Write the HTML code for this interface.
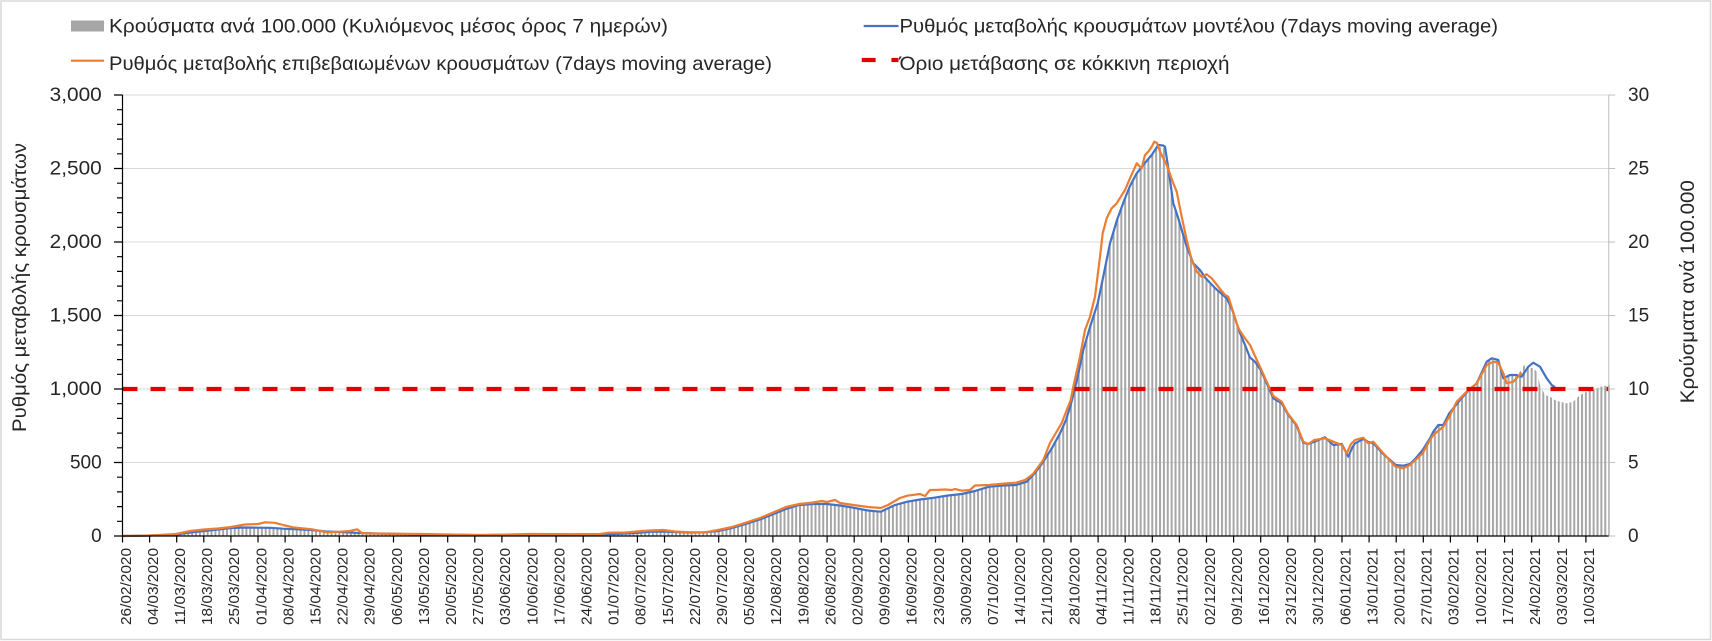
<!DOCTYPE html>
<html>
<head>
<meta charset="utf-8">
<style>
html,body{margin:0;padding:0;background:#fff;}
svg{display:block;}
text{font-family:"Liberation Sans","DejaVu Sans",sans-serif;fill:#262626;}
</style>
</head>
<body>
<svg width="1712" height="641" viewBox="0 0 1712 641" xmlns="http://www.w3.org/2000/svg">
<defs>
<pattern id="bp" patternUnits="userSpaceOnUse" x="121.5" y="0" width="3.8714" height="641">
<rect x="0" y="0" width="2" height="641" fill="#a6a6a6"/>
</pattern>
</defs>
<rect x="0" y="0" width="1712" height="641" fill="#fff"/>
<rect x="1" y="1" width="1709.5" height="638.5" fill="none" stroke="#d9d9d9" stroke-width="1.5"/>

<!-- legend -->
<rect x="71" y="20.5" width="33" height="11" fill="#a6a6a6"/>
<text x="109" y="32.3" font-size="19.5" textLength="559" lengthAdjust="spacingAndGlyphs">Κρούσματα ανά 100.000 (Κυλιόμενος μέσος όρος 7 ημερών)</text>
<line x1="71" y1="60.7" x2="104" y2="60.7" stroke="#ED7D31" stroke-width="2.2"/>
<text x="109" y="70" font-size="19.5" textLength="663" lengthAdjust="spacingAndGlyphs">Ρυθμός μεταβολής επιβεβαιωμένων κρουσμάτων (7days moving average)</text>
<line x1="863.7" y1="26" x2="898.5" y2="26" stroke="#4472C4" stroke-width="2.2"/>
<text x="899.5" y="32.3" font-size="19.5" textLength="598.5" lengthAdjust="spacingAndGlyphs">Ρυθμός μεταβολής κρουσμάτων μοντέλου (7days moving average)</text>
<line x1="861.7" y1="60" x2="875.6" y2="60" stroke="#E00000" stroke-width="4.2"/>
<line x1="891.4" y1="60" x2="898.5" y2="60" stroke="#E00000" stroke-width="4.2"/>
<text x="899.5" y="70" font-size="19.5" textLength="330" lengthAdjust="spacingAndGlyphs">Όριο μετάβασης σε κόκκινη περιοχή</text>

<!-- gridlines -->
<g stroke="#d9d9d9" stroke-width="1">
<line x1="122.5" y1="95" x2="1608.7" y2="95"/>
<line x1="122.5" y1="168.5" x2="1608.7" y2="168.5"/>
<line x1="122.5" y1="242" x2="1608.7" y2="242"/>
<line x1="122.5" y1="315.5" x2="1608.7" y2="315.5"/>
<line x1="122.5" y1="389" x2="1608.7" y2="389"/>
<line x1="122.5" y1="462.5" x2="1608.7" y2="462.5"/>
</g>

<!-- bars -->
<polygon fill="url(#bp)" points="121.5,536 122.5,536 150,535.5 176,534.5 190,532.5 204,531 218,529.5 231,528 245,527.5 258,527.7 270,527.8 283,528.7 297,529.3 312,530 326,531.5 340,532 356,532.8 372,533.3 420,534.5 480,535 530,534.5 600,534.3 620,533.8 636,533 650,531.8 663,531.5 678,532.2 691,532.5 705,532.3 718,531 732,528 745.7,524 760,519.5 772.7,514.3 786,509 799.3,505 813,504 826.7,504 840,505.5 853.3,507.7 868,510.5 880.7,511.7 895,505 907.3,501.7 920,499.5 934.3,497.7 948,495.5 961.7,494 975,491 989,486.7 1003,485.5 1016,485 1026.7,481.7 1035,473 1043.3,461.7 1052,448 1060,433.3 1066,420 1070.7,405 1077,380 1083.3,350 1090,327 1097.7,303.3 1104,273 1110,243.3 1117,220 1124.3,200 1130,186 1136.7,173.3 1144,164 1151.7,155 1158.3,147 1163,147.5 1165,149 1168.3,170 1173.3,203.3 1178.3,218.3 1186.7,246.7 1193.3,263.3 1200,270 1205.7,278.3 1215,288 1226.7,298.3 1232.3,310 1240,333 1245,345 1250,357.5 1255,361.7 1260.7,370 1266.7,383.3 1273.3,398.3 1281.7,403.3 1287.7,414 1296.7,426 1303.3,442.7 1308.3,444 1314.3,441.7 1325,437.3 1333.3,445 1341.7,444 1345,450 1348.3,456.7 1352,448 1355,443.3 1363.3,439 1368.3,442 1373.3,443.3 1383.3,454 1395.7,465 1403.3,465.7 1410,464 1416,458 1422.7,450 1430,438.3 1433.3,431.7 1438.3,425 1443.3,425 1449.3,413.3 1460,400 1468,391 1476.7,383.3 1486.7,361.7 1491.7,360 1498.3,361 1503.3,378.3 1510,375 1516.7,375 1521.7,370 1524,365 1528.3,368 1533.3,368 1537,372 1540,385 1545,395 1550,396.7 1555,400 1560,401.7 1566.7,403.3 1573.3,401.7 1580,395 1586.7,391.7 1593.3,390 1600,386.7 1609.7,385 1609.7,536"/>

<!-- blue line -->
<polyline fill="none" stroke="#4472C4" stroke-width="2.2" stroke-linejoin="round" points="122.5,536 150,535.5 176,534.5 190,532.5 204,531 218,529.5 231,528 245,527.5 258,527.7 270,527.8 283,528.7 297,529.3 312,530 326,531.5 340,532 356,532.8 372,533.3 420,534.5 480,535 530,534.5 600,534.3 620,533.8 636,533 650,531.8 663,531.5 678,532.2 691,532.5 705,532.3 718,531 732,528 745.7,524 760,519.5 772.7,514.3 786,509 799.3,505 813,504 826.7,504 840,505.5 853.3,507.7 868,510.5 880.7,511.7 895,505 907.3,501.7 920,499.5 934.3,497.7 948,495.5 961.7,494 975,491 989,486.7 1003,485.5 1016,485 1026.7,481.7 1035,473 1043.3,461.7 1052,448 1060,433.3 1066,420 1070.7,405 1077,380 1083.3,350 1090,327 1097.7,303.3 1104,273 1110,243.3 1117,220 1124.3,200 1130,186 1136.7,173.3 1144,164 1151.7,155 1158.3,145 1163,145.5 1165,146.7 1168.3,168.3 1173.3,203.3 1178.3,218.3 1186.7,246.7 1193.3,263.3 1200,270 1205.7,278.3 1215,288 1226.7,298.3 1232.3,310 1240,333 1245,345 1250,357.5 1255,361.7 1260.7,370 1266.7,383.3 1273.3,398.3 1281.7,403.3 1287.7,414 1296.7,426 1303.3,442.7 1308.3,444 1314.3,441.7 1325,437.3 1333.3,445 1341.7,444 1345,450 1348.3,456.7 1352,448 1355,443.3 1363.3,439 1368.3,442 1373.3,443.3 1383.3,454 1395.7,465 1403.3,465.7 1410,464 1416,458 1422.7,450 1430,438.3 1433.3,431.7 1438.3,425 1443.3,425 1449.3,413.3 1460,400 1468,391 1476.7,383.3 1486.7,361.7 1491.7,358.3 1498.3,360 1503.3,378.3 1510,375 1516.7,375 1521.7,376.7 1528.3,366.7 1533.3,362.7 1540,366.7 1546.7,378.3 1551.7,385 1555,387.3"/>

<!-- orange line -->
<polyline fill="none" stroke="#ED7D31" stroke-width="2.2" stroke-linejoin="round" points="122.5,536 150,535.5 176,534 190,531 204,529.5 218,528.5 231,527 245,524.5 258,524 265,522.3 275,522.8 283,525 293,527.3 312,529.3 327,532.3 340,531.7 350,531 357,529.3 362,533 372,533.5 420,534 450,534.5 480,535.2 530,534 570,534.2 600,534 609,532.7 625,532.5 636.7,531.5 650,530.5 663,530 675,531.5 691,532.3 705,532.3 718,530 732,527 745.7,522.7 760,518 772.7,512.7 786,507 799.3,504 813,502.5 822,501 826.7,502 835,500 840,503 853.3,505 868,507 880.7,508 888,505 900,498 907.3,495.7 920,494 925,496 930,490 934.3,490 945,489.5 952,490 955,489 961.7,490.7 970,490 975,485.5 989,485 1005,483.5 1016,482.7 1025,480 1033,474 1043.3,460 1050,443 1061.7,423 1070.7,400 1073.3,386.7 1080,356.7 1085,330 1090,316.7 1095,296.7 1100,256.7 1102.7,233.3 1106.7,218.3 1111.7,208.3 1116.7,203.3 1125,190 1130,178.3 1136.7,163.3 1140,166.7 1141.7,168.3 1145,155 1148.3,151.7 1151.7,146.7 1154.3,141.7 1157,143 1160,151.7 1166.7,165 1173.3,183.3 1176.7,191.7 1181.7,216.7 1186.7,240 1191.7,260 1196.7,271.7 1201.7,276.7 1206.7,274.3 1211.7,278.3 1218.3,286.7 1225,295 1228.3,296.7 1233.3,312.5 1238.3,328.3 1245,338.3 1250,345 1255,356 1260.7,368.3 1266.7,381.7 1273.3,396 1281.7,401.7 1287.7,413.3 1296.7,425 1303.3,441.7 1308.3,444 1314.3,440 1325,438.3 1333.3,441.7 1341.7,445 1346.7,453.3 1351,444 1355,440 1363.3,437.7 1368.3,443.3 1373.3,441.7 1383.3,453.3 1395.7,466.7 1403.3,468.3 1410,465 1422.7,453.3 1430,440 1433.3,435 1443.3,426.7 1449.3,416.7 1456.7,401.7 1466.7,391.7 1476.7,383.3 1486.7,365 1493.3,361.7 1498.3,362.7 1503.3,373.3 1506.7,383.3 1513.3,381.7 1521.7,372.7"/>

<!-- red threshold -->
<line x1="122.5" y1="389" x2="1608.7" y2="389" stroke="#E00000" stroke-width="4.3" stroke-dasharray="15 13"/>

<!-- axes -->
<line x1="1608.7" y1="95" x2="1608.7" y2="536" stroke="#bfbfbf" stroke-width="1"/>
<path d="M1608.7 95h6.5M1608.7 168.5h6.5M1608.7 242h6.5M1608.7 315.5h6.5M1608.7 389h6.5M1608.7 462.5h6.5M1608.7 536h6.5" stroke="#bfbfbf" stroke-width="1"/>
<line x1="122.5" y1="95" x2="122.5" y2="536" stroke="#000" stroke-width="1.2"/>
<path d="M114 95h8.5M114 168.5h8.5M114 242h8.5M114 315.5h8.5M114 389h8.5M114 462.5h8.5M114 536h8.5" stroke="#000" stroke-width="1.2"/>
<path d="M117 521.3h5.5M117 506.6h5.5M117 491.9h5.5M117 477.2h5.5M117 447.8h5.5M117 433.1h5.5M117 418.4h5.5M117 403.7h5.5M117 374.3h5.5M117 359.6h5.5M117 344.9h5.5M117 330.2h5.5M117 300.8h5.5M117 286.1h5.5M117 271.4h5.5M117 256.7h5.5M117 227.3h5.5M117 212.6h5.5M117 197.9h5.5M117 183.2h5.5M117 153.8h5.5M117 139.1h5.5M117 124.4h5.5M117 109.7h5.5" stroke="#000" stroke-width="1.2"/>
<line x1="122.5" y1="536" x2="1608.7" y2="536" stroke="#000" stroke-width="1.3"/>
<path stroke="#000" stroke-width="1.2" d="M122.5 536v6.5M149.6 536v6.5M176.7 536v6.5M203.8 536v6.5M230.9 536v6.5M258 536v6.5M285.1 536v6.5M312.2 536v6.5M339.3 536v6.5M366.4 536v6.5M393.5 536v6.5M420.6 536v6.5M447.7 536v6.5M474.8 536v6.5M501.9 536v6.5M529 536v6.5M556.1 536v6.5M583.2 536v6.5M610.3 536v6.5M637.4 536v6.5M664.5 536v6.5M691.6 536v6.5M718.7 536v6.5M745.8 536v6.5M772.9 536v6.5M800 536v6.5M827.1 536v6.5M854.2 536v6.5M881.3 536v6.5M908.4 536v6.5M935.5 536v6.5M962.6 536v6.5M989.7 536v6.5M1016.8 536v6.5M1043.9 536v6.5M1071 536v6.5M1098.1 536v6.5M1125.2 536v6.5M1152.3 536v6.5M1179.4 536v6.5M1206.5 536v6.5M1233.6 536v6.5M1260.7 536v6.5M1287.8 536v6.5M1314.9 536v6.5M1342 536v6.5M1369.1 536v6.5M1396.2 536v6.5M1423.3 536v6.5M1450.4 536v6.5M1477.5 536v6.5M1504.6 536v6.5M1531.7 536v6.5M1558.8 536v6.5M1585.9 536v6.5"/>

<!-- left labels -->
<g font-size="19" text-anchor="end">
<text x="101.7" y="101" textLength="52" lengthAdjust="spacingAndGlyphs">3,000</text>
<text x="101.7" y="174.5" textLength="52" lengthAdjust="spacingAndGlyphs">2,500</text>
<text x="101.7" y="248" textLength="52" lengthAdjust="spacingAndGlyphs">2,000</text>
<text x="101.7" y="321.5" textLength="52" lengthAdjust="spacingAndGlyphs">1,500</text>
<text x="101.7" y="395" textLength="52" lengthAdjust="spacingAndGlyphs">1,000</text>
<text x="101.7" y="468.5">500</text>
<text x="101.7" y="542">0</text>
</g>
<!-- right labels -->
<g font-size="19">
<text x="1628" y="101">30</text>
<text x="1628" y="174.5">25</text>
<text x="1628" y="248">20</text>
<text x="1628" y="321.5">15</text>
<text x="1628" y="395">10</text>
<text x="1628" y="468.5">5</text>
<text x="1628" y="542">0</text>
</g>
<!-- axis titles -->
<text transform="translate(26,287.5) rotate(-90)" font-size="19.5" text-anchor="middle" textLength="289" lengthAdjust="spacingAndGlyphs">Ρυθμός μεταβολής κρουσμάτων</text>
<text transform="translate(1694,291.7) rotate(-90)" font-size="19.5" text-anchor="middle" textLength="223" lengthAdjust="spacingAndGlyphs">Κρούσματα ανά 100.000</text>

<!-- x labels -->
<g font-size="15" text-anchor="end">
<text transform="translate(130.8,548) rotate(-90)" textLength="77" lengthAdjust="spacingAndGlyphs">26/02/2020</text>
<text transform="translate(157.9,548) rotate(-90)" textLength="77" lengthAdjust="spacingAndGlyphs">04/03/2020</text>
<text transform="translate(185,548) rotate(-90)" textLength="77" lengthAdjust="spacingAndGlyphs">11/03/2020</text>
<text transform="translate(212.1,548) rotate(-90)" textLength="77" lengthAdjust="spacingAndGlyphs">18/03/2020</text>
<text transform="translate(239.2,548) rotate(-90)" textLength="77" lengthAdjust="spacingAndGlyphs">25/03/2020</text>
<text transform="translate(266.3,548) rotate(-90)" textLength="77" lengthAdjust="spacingAndGlyphs">01/04/2020</text>
<text transform="translate(293.4,548) rotate(-90)" textLength="77" lengthAdjust="spacingAndGlyphs">08/04/2020</text>
<text transform="translate(320.5,548) rotate(-90)" textLength="77" lengthAdjust="spacingAndGlyphs">15/04/2020</text>
<text transform="translate(347.6,548) rotate(-90)" textLength="77" lengthAdjust="spacingAndGlyphs">22/04/2020</text>
<text transform="translate(374.7,548) rotate(-90)" textLength="77" lengthAdjust="spacingAndGlyphs">29/04/2020</text>
<text transform="translate(401.8,548) rotate(-90)" textLength="77" lengthAdjust="spacingAndGlyphs">06/05/2020</text>
<text transform="translate(428.9,548) rotate(-90)" textLength="77" lengthAdjust="spacingAndGlyphs">13/05/2020</text>
<text transform="translate(456,548) rotate(-90)" textLength="77" lengthAdjust="spacingAndGlyphs">20/05/2020</text>
<text transform="translate(483.1,548) rotate(-90)" textLength="77" lengthAdjust="spacingAndGlyphs">27/05/2020</text>
<text transform="translate(510.2,548) rotate(-90)" textLength="77" lengthAdjust="spacingAndGlyphs">03/06/2020</text>
<text transform="translate(537.3,548) rotate(-90)" textLength="77" lengthAdjust="spacingAndGlyphs">10/06/2020</text>
<text transform="translate(564.4,548) rotate(-90)" textLength="77" lengthAdjust="spacingAndGlyphs">17/06/2020</text>
<text transform="translate(591.5,548) rotate(-90)" textLength="77" lengthAdjust="spacingAndGlyphs">24/06/2020</text>
<text transform="translate(618.6,548) rotate(-90)" textLength="77" lengthAdjust="spacingAndGlyphs">01/07/2020</text>
<text transform="translate(645.7,548) rotate(-90)" textLength="77" lengthAdjust="spacingAndGlyphs">08/07/2020</text>
<text transform="translate(672.8,548) rotate(-90)" textLength="77" lengthAdjust="spacingAndGlyphs">15/07/2020</text>
<text transform="translate(699.9,548) rotate(-90)" textLength="77" lengthAdjust="spacingAndGlyphs">22/07/2020</text>
<text transform="translate(727,548) rotate(-90)" textLength="77" lengthAdjust="spacingAndGlyphs">29/07/2020</text>
<text transform="translate(754.1,548) rotate(-90)" textLength="77" lengthAdjust="spacingAndGlyphs">05/08/2020</text>
<text transform="translate(781.2,548) rotate(-90)" textLength="77" lengthAdjust="spacingAndGlyphs">12/08/2020</text>
<text transform="translate(808.3,548) rotate(-90)" textLength="77" lengthAdjust="spacingAndGlyphs">19/08/2020</text>
<text transform="translate(835.4,548) rotate(-90)" textLength="77" lengthAdjust="spacingAndGlyphs">26/08/2020</text>
<text transform="translate(862.5,548) rotate(-90)" textLength="77" lengthAdjust="spacingAndGlyphs">02/09/2020</text>
<text transform="translate(889.6,548) rotate(-90)" textLength="77" lengthAdjust="spacingAndGlyphs">09/09/2020</text>
<text transform="translate(916.7,548) rotate(-90)" textLength="77" lengthAdjust="spacingAndGlyphs">16/09/2020</text>
<text transform="translate(943.8,548) rotate(-90)" textLength="77" lengthAdjust="spacingAndGlyphs">23/09/2020</text>
<text transform="translate(970.9,548) rotate(-90)" textLength="77" lengthAdjust="spacingAndGlyphs">30/09/2020</text>
<text transform="translate(998,548) rotate(-90)" textLength="77" lengthAdjust="spacingAndGlyphs">07/10/2020</text>
<text transform="translate(1025.1,548) rotate(-90)" textLength="77" lengthAdjust="spacingAndGlyphs">14/10/2020</text>
<text transform="translate(1052.2,548) rotate(-90)" textLength="77" lengthAdjust="spacingAndGlyphs">21/10/2020</text>
<text transform="translate(1079.3,548) rotate(-90)" textLength="77" lengthAdjust="spacingAndGlyphs">28/10/2020</text>
<text transform="translate(1106.4,548) rotate(-90)" textLength="77" lengthAdjust="spacingAndGlyphs">04/11/2020</text>
<text transform="translate(1133.5,548) rotate(-90)" textLength="77" lengthAdjust="spacingAndGlyphs">11/11/2020</text>
<text transform="translate(1160.6,548) rotate(-90)" textLength="77" lengthAdjust="spacingAndGlyphs">18/11/2020</text>
<text transform="translate(1187.7,548) rotate(-90)" textLength="77" lengthAdjust="spacingAndGlyphs">25/11/2020</text>
<text transform="translate(1214.8,548) rotate(-90)" textLength="77" lengthAdjust="spacingAndGlyphs">02/12/2020</text>
<text transform="translate(1241.9,548) rotate(-90)" textLength="77" lengthAdjust="spacingAndGlyphs">09/12/2020</text>
<text transform="translate(1269,548) rotate(-90)" textLength="77" lengthAdjust="spacingAndGlyphs">16/12/2020</text>
<text transform="translate(1296.1,548) rotate(-90)" textLength="77" lengthAdjust="spacingAndGlyphs">23/12/2020</text>
<text transform="translate(1323.2,548) rotate(-90)" textLength="77" lengthAdjust="spacingAndGlyphs">30/12/2020</text>
<text transform="translate(1350.3,548) rotate(-90)" textLength="77" lengthAdjust="spacingAndGlyphs">06/01/2021</text>
<text transform="translate(1377.4,548) rotate(-90)" textLength="77" lengthAdjust="spacingAndGlyphs">13/01/2021</text>
<text transform="translate(1404.5,548) rotate(-90)" textLength="77" lengthAdjust="spacingAndGlyphs">20/01/2021</text>
<text transform="translate(1431.6,548) rotate(-90)" textLength="77" lengthAdjust="spacingAndGlyphs">27/01/2021</text>
<text transform="translate(1458.7,548) rotate(-90)" textLength="77" lengthAdjust="spacingAndGlyphs">03/02/2021</text>
<text transform="translate(1485.8,548) rotate(-90)" textLength="77" lengthAdjust="spacingAndGlyphs">10/02/2021</text>
<text transform="translate(1512.9,548) rotate(-90)" textLength="77" lengthAdjust="spacingAndGlyphs">17/02/2021</text>
<text transform="translate(1540,548) rotate(-90)" textLength="77" lengthAdjust="spacingAndGlyphs">24/02/2021</text>
<text transform="translate(1567.1,548) rotate(-90)" textLength="77" lengthAdjust="spacingAndGlyphs">03/03/2021</text>
<text transform="translate(1594.2,548) rotate(-90)" textLength="77" lengthAdjust="spacingAndGlyphs">10/03/2021</text>
</g>
</svg>
</body>
</html>
